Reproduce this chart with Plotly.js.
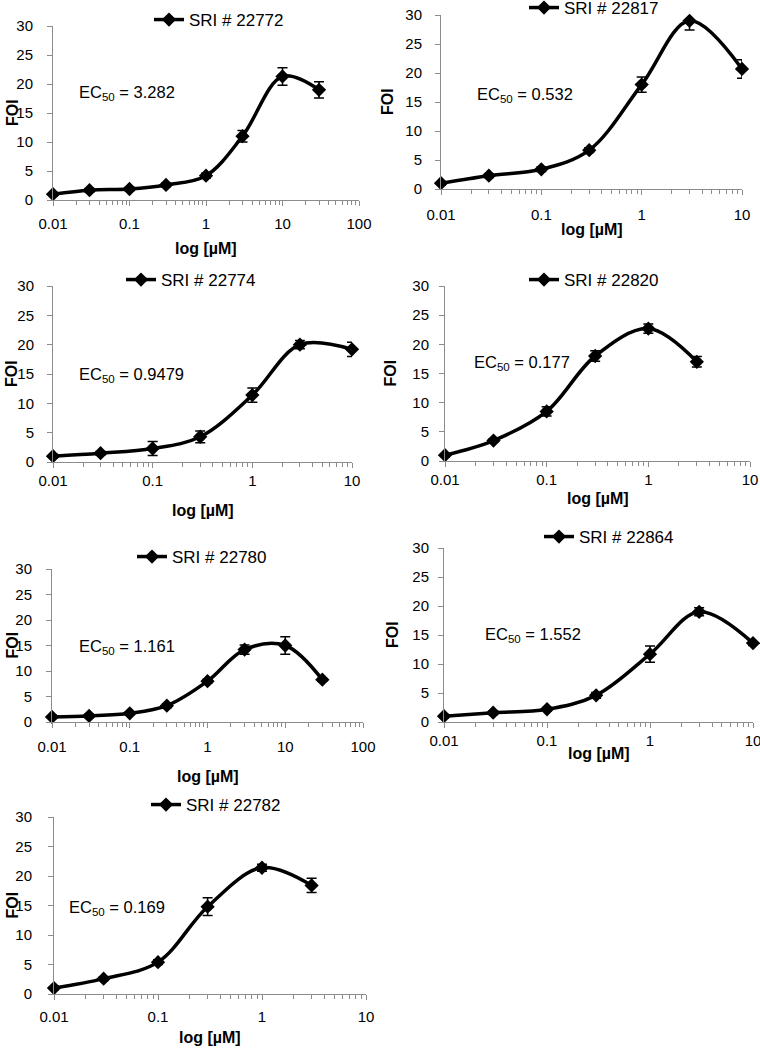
<!DOCTYPE html>
<html>
<head>
<meta charset="utf-8">
<script src="https://cdn.plot.ly/plotly-3.0.1.min.js"></script>
<style>html,body{margin:0;padding:0;background:#fff;overflow:hidden;}#chart{width:760px;height:1060px;margin-top:-10px;}</style>
</head>
<body>
<div id="chart"></div>
<script>
// ---- data ----
const compounds = ["SRI # 22772", "SRI # 22817", "SRI # 22774", "SRI # 22820", "SRI # 22780", "SRI # 22864", "SRI # 22782"];
const ec50Labels = ["3.282", "0.532", "0.9479", "0.177", "1.161", "1.552", "0.169"];

const conc22772 = [0.01, 0.03, 0.1, 0.3, 1, 3, 10, 30];
const foi22772  = [1.0, 1.7, 1.9, 2.6, 4.2, 11.0, 21.3, 19.0];
const err22772  = [0.3, 0.3, 0.3, 0.3, 0.4, 1.0, 1.5, 1.4];

const conc22817 = [0.01, 0.03, 0.1, 0.3, 1, 3, 10];
const foi22817  = [1.0, 2.3, 3.4, 6.7, 18.0, 29.0, 20.7];
const err22817  = [0.3, 0.3, 0.4, 0.4, 1.3, 1.6, 1.6];

const conc22774 = [0.01, 0.03, 0.1, 0.3, 1, 3, 10];
const foi22774  = [1.0, 1.5, 2.3, 4.3, 11.4, 20.0, 19.2];
const err22774  = [0.3, 0.3, 1.2, 1.0, 1.2, 0.7, 1.2];

const conc22820 = [0.01, 0.03, 0.1, 0.3, 1, 3];
const foi22820  = [1.0, 3.5, 8.5, 18.0, 22.7, 17.0];
const err22820  = [0.3, 0.3, 0.8, 0.9, 0.8, 0.9];

const conc22780 = [0.01, 0.03, 0.1, 0.3, 1, 3, 10, 30];
const foi22780  = [1.0, 1.2, 1.7, 3.2, 8.0, 14.2, 15.0, 8.3];
const err22780  = [0.3, 0.3, 0.3, 0.4, 0.4, 0.9, 1.7, 0.3];

const conc22864 = [0.01, 0.03, 0.1, 0.3, 1, 3, 10];
const foi22864  = [1.0, 1.6, 2.2, 4.6, 11.7, 19.0, 13.6];
const err22864  = [0.3, 0.3, 0.3, 0.5, 1.4, 0.7, 0.4];

const conc22782 = [0.01, 0.03, 0.1, 0.3, 1, 3];
const foi22782  = [1.0, 2.6, 5.4, 14.8, 21.4, 18.4];
const err22782  = [0.3, 0.3, 0.4, 1.5, 0.6, 1.2];

const xTickVals = [0.01, 0.1, 1, 10, 100];
const xTickText = ["0.01", "0.1", "1", "10", "100"];
const xMinorVals = [0.02,0.03,0.04,0.05,0.06,0.07,0.08,0.09, 0.2,0.3,0.4,0.5,0.6,0.7,0.8,0.9, 2,3,4,5,6,7,8,9, 20,30,40,50,60,70,80,90];
const yTickVals = [0, 5, 10, 15, 20, 25, 30];

const seriesX = [conc22772, conc22817, conc22774, conc22820, conc22780, conc22864, conc22782];
const seriesY = [foi22772, foi22817, foi22774, foi22820, foi22780, foi22864, foi22782];
const seriesE = [err22772, err22817, err22774, err22820, err22780, err22864, err22782];
const xMaxDecade = [2, 1, 1, 1, 2, 1, 1];

// ---- layout geometry (page pixels; the plot is shifted up by OFF px so the top legend can sit near the edge) ----
const OFF = 10;
const W = 760, H = 1050 + OFF;
const panels = [
  {L:53,  R:359, T:26,  B:200, legX:155, legY:20,  ecX:77,  ecY:93,  tickY:227,  titleY:248,  yGap:19, foiX:12},
  {L:441, R:742, T:15,  B:189, legX:530, legY:8,   ecX:475, ecY:95,  tickY:218,  titleY:230,  yGap:18, foiX:388},
  {L:53,  R:352, T:286, B:462, legX:127, legY:280, ecX:77,  ecY:375, tickY:481,  titleY:510,  yGap:18, foiX:12},
  {L:445, R:750, T:286, B:461, legX:530, legY:280, ecX:472, ecY:363, tickY:482,  titleY:498,  yGap:15, foiX:390},
  {L:52,  R:363, T:569, B:722, legX:138, legY:557, ecX:77,  ecY:647, tickY:750,  titleY:776,  yGap:19, foiX:12},
  {L:444, R:753, T:548, B:722, legX:545, legY:537, ecX:483, ecY:635, tickY:740,  titleY:753,  yGap:14, foiX:392},
  {L:54,  R:366, T:817, B:994, legX:152, legY:805, ecX:67,  ecY:908, tickY:1020, titleY:1037, yGap:21, foiX:12}
];
const py = v => 1 - (v + OFF) / H;

const FONT = "Liberation Sans, Arial, sans-serif";
const axisGray = "#8c8c8c";
const traces = [];
const layout = {
  width: W, height: H,
  margin: {l:0, r:0, t:0, b:0},
  paper_bgcolor: "#fff", plot_bgcolor: "#fff",
  font: {family: FONT, color: "#000", size: 15},
  annotations: []
};

panels.forEach((p, i) => {
  const n = i + 1;
  const xa = n === 1 ? "x" : "x" + n;
  const ya = n === 1 ? "y" : "y" + n;
  const legName = n === 1 ? "legend" : "legend" + n;
  traces.push({
    type: "scatter", mode: "lines+markers",
    x: seriesX[i], y: seriesY[i],
    error_y: {type: "data", array: seriesE[i], visible: true, color: "#000", thickness: 1.5, width: 5},
    line: {color: "#000", width: 3.5, shape: "spline", smoothing: 1},
    marker: {symbol: "diamond", size: 11, color: "#000"},
    name: compounds[i],
    xaxis: xa, yaxis: ya, legend: legName, showlegend: true,
    cliponaxis: false
  });
  const xKey = n === 1 ? "xaxis" : "xaxis" + n;
  const yKey = n === 1 ? "yaxis" : "yaxis" + n;
  layout[xKey] = {
    type: "log", domain: [p.L / W, p.R / W], anchor: ya,
    range: [-2, xMaxDecade[i]],
    tickvals: xTickVals, ticktext: xTickText,
    ticks: "outside", ticklen: 5, tickcolor: axisGray, tickwidth: 1,
    ticklabelstandoff: Math.max(0, (p.tickY - p.B) - 22),
    ticklabeloverflow: "allow",
    minor: {ticks: "outside", ticklen: 4, tickcolor: axisGray, tickvals: xMinorVals, showgrid: false},
    showline: true, linecolor: axisGray, linewidth: 1,
    showgrid: false, zeroline: false, automargin: false,
    tickfont: {size: 15, family: FONT},
    fixedrange: true
  };
  layout[yKey] = {
    domain: [py(p.B), py(p.T)], anchor: xa,
    range: [0, 30], tickvals: yTickVals,
    ticks: "outside", ticklen: 5, tickcolor: axisGray, tickwidth: 1,
    ticklabelstandoff: p.yGap - 8,
    showline: true, linecolor: axisGray, linewidth: 1,
    showgrid: false, zeroline: false, automargin: false,
    tickfont: {size: 15, family: FONT},
    fixedrange: true
  };
  layout[legName] = {
    x: (p.legX - 6) / W, xanchor: "left",
    y: py(p.legY), yanchor: "middle",
    bgcolor: "rgba(0,0,0,0)", borderwidth: 0,
    font: {size: 17, family: FONT, color: "#000"},
    orientation: "h"
  };
  layout.annotations.push({
    xref: "paper", yref: "paper",
    x: p.ecX / W, y: py(p.ecY), xanchor: "left", yanchor: "middle",
    text: "EC<sub>50</sub> = " + ec50Labels[i],
    showarrow: false, font: {size: 16.5, family: FONT, color: "#000"}
  });
  // x axis title
  layout.annotations.push({
    xref: "paper", yref: "paper",
    x: (p.L + p.R) / 2 / W, y: py(p.titleY), xanchor: "center", yanchor: "middle",
    text: "<b>log [µM]</b>", showarrow: false, font: {size: 16, family: FONT, color: "#000"}
  });
  // y axis title
  layout.annotations.push({
    xref: "paper", yref: "paper",
    x: p.foiX / W, y: py((p.T + p.B) / 2), xanchor: "center", yanchor: "middle",
    text: "<b>FOI</b>", textangle: -90, showarrow: false, font: {size: 16, family: FONT, color: "#000"}
  });
});

Plotly.newPlot("chart", traces, layout, {displayModeBar: false, staticPlot: true});
</script>
</body>
</html>
